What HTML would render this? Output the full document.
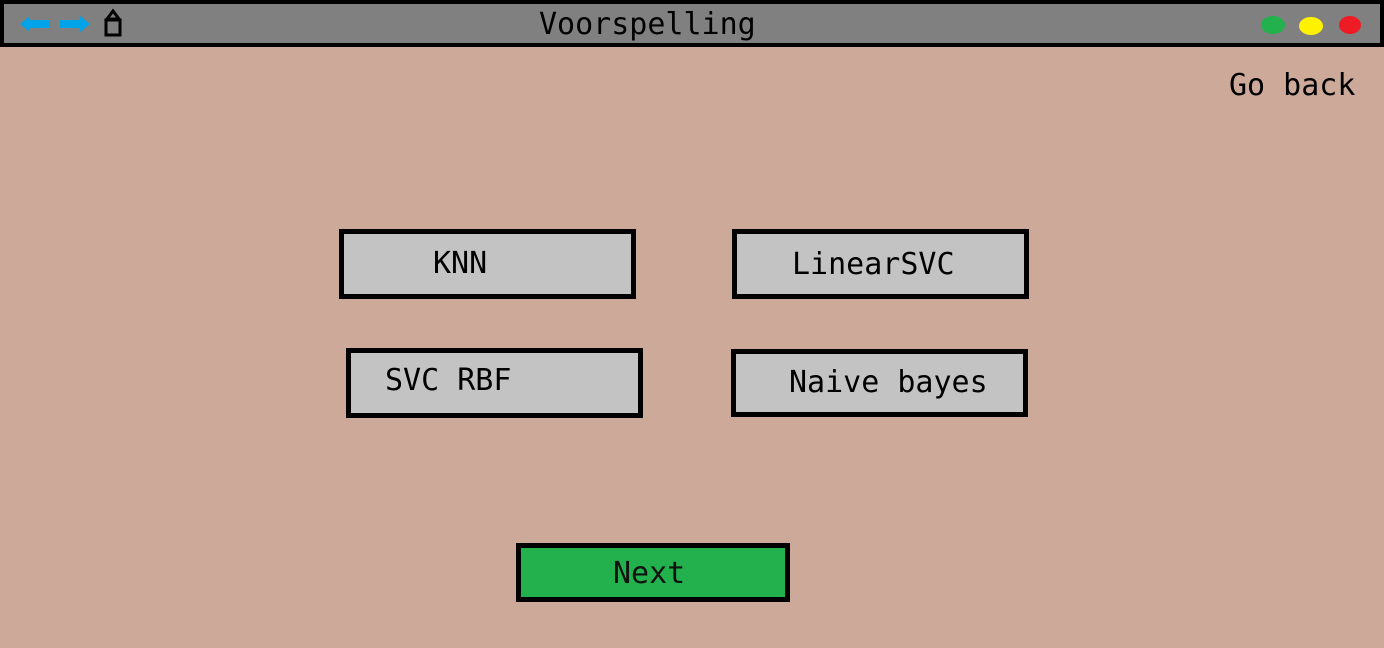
<!DOCTYPE html>
<html><head><style>
body{margin:0;width:1384px;height:648px;background:#cda99a;position:relative;overflow:hidden;font-family:"DejaVu Sans Mono","Liberation Mono",monospace;}
.t{position:absolute;font-size:30px;line-height:1;color:#000;white-space:pre;}
.b{position:absolute;box-sizing:border-box;border:5px solid #000;background:#c3c3c3;}
</style></head><body>
<div style="position:absolute;left:0;top:0;width:1384px;height:47px;box-sizing:border-box;border:4px solid #000;background:#808080"></div>
<svg style="position:absolute;left:0;top:0" width="140" height="45">
<polygon points="20,24 30,16 30,20 50,20 50,28 30,28 30,32" fill="#00a2e8"/>
<polygon points="90,24 80,16 80,20 60,20 60,28 80,28 80,32" fill="#00a2e8"/>
<rect x="106" y="20" width="14" height="15" fill="none" stroke="#000" stroke-width="3"/>
<polygon points="107,19 113,11 119,19" fill="none" stroke="#000" stroke-width="3"/>
</svg>
<svg style="position:absolute;left:0;top:0" width="1384" height="47">
<ellipse cx="1273" cy="25" rx="12" ry="9" fill="#22b14c"/>
<ellipse cx="1311" cy="26" rx="12" ry="9" fill="#fff200"/>
<ellipse cx="1350" cy="25" rx="11" ry="9" fill="#ed1c24"/>
</svg>
<div class="t" style="left:539px;top:10px">Voorspelling</div>
<div class="t" style="left:1229px;top:71px">Go back</div>
<div class="b" style="left:339px;top:229px;width:297px;height:70px"></div>
<div class="t" style="left:433px;top:249px">KNN</div>
<div class="b" style="left:732px;top:229px;width:297px;height:70px"></div>
<div class="t" style="left:792px;top:250px">LinearSVC</div>
<div class="b" style="left:346px;top:348px;width:297px;height:70px"></div>
<div class="t" style="left:385px;top:366px">SVC RBF</div>
<div class="b" style="left:731px;top:349px;width:297px;height:68px"></div>
<div class="t" style="left:789px;top:368px">Naive bayes</div>
<div class="b" style="left:516px;top:543px;width:274px;height:59px;background:#22b14c"></div>
<div class="t" style="left:613px;top:559px;color:#111">Next</div>
</body></html>
